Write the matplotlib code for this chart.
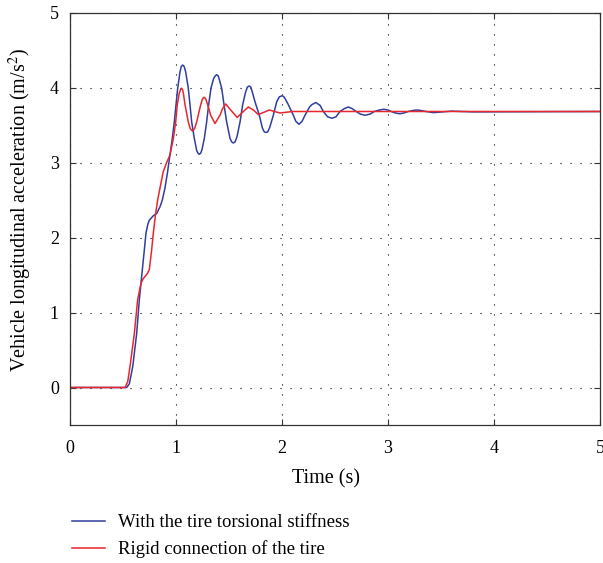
import matplotlib
matplotlib.use("Agg")
import matplotlib.pyplot as plt

plt.rcParams['font.family'] = ['Liberation Serif', 'DejaVu Serif']
plt.rcParams['mathtext.fontset'] = 'stix'

# (time s, acceleration m/s^2)
t_blue = [0.0, 0.535, 0.56, 0.592, 0.629, 0.654, 0.676, 0.701, 0.717, 0.735, 0.748,
          0.786, 0.818, 0.849, 0.871, 0.896, 0.921, 0.943, 0.965, 0.984, 1.0,
          1.016, 1.038, 1.05, 1.063, 1.077, 1.091, 1.116, 1.132, 1.148, 1.173,
          1.195, 1.207, 1.22, 1.233, 1.245, 1.267, 1.289, 1.308, 1.33, 1.355,
          1.37, 1.384, 1.398, 1.41, 1.431, 1.453, 1.478, 1.51, 1.525, 1.541,
          1.557, 1.575, 1.604, 1.629, 1.655, 1.673, 1.69, 1.706, 1.72, 1.745,
          1.786, 1.815, 1.832, 1.849, 1.866, 1.885, 1.918, 1.95, 1.975, 2.0,
          2.015, 2.03, 2.06, 2.107, 2.13, 2.16, 2.19, 2.217, 2.26, 2.28, 2.32,
          2.36, 2.39, 2.43, 2.47, 2.51, 2.547, 2.59, 2.626, 2.66, 2.70, 2.74,
          2.783, 2.83, 2.87, 2.92, 2.96, 3.0, 3.03, 3.07, 3.11, 3.15, 3.19,
          3.24, 3.28, 3.36, 3.43, 3.6, 3.8, 5.0]
a_blue = [0.0, 0.0, 0.05, 0.28, 0.72, 1.17, 1.48, 1.83, 2.06, 2.18, 2.23,
          2.29, 2.32, 2.41, 2.50, 2.66, 2.88, 3.10, 3.32, 3.54, 3.77,
          3.99, 4.21, 4.28, 4.30, 4.28, 4.21, 3.99, 3.77, 3.54, 3.32,
          3.16, 3.125, 3.11, 3.125, 3.17, 3.32, 3.54, 3.77, 3.99, 4.12,
          4.155, 4.17, 4.155, 4.10, 3.99, 3.77, 3.54, 3.32, 3.275, 3.26,
          3.275, 3.34, 3.54, 3.77, 3.93, 4.005, 4.02, 4.005, 3.94, 3.81,
          3.63, 3.46, 3.41, 3.40, 3.41, 3.47, 3.63, 3.81, 3.875, 3.89,
          3.88, 3.85, 3.77, 3.63, 3.55, 3.51, 3.55, 3.63, 3.74, 3.77, 3.80,
          3.76, 3.68, 3.61, 3.59, 3.61, 3.68, 3.72, 3.74, 3.72, 3.68, 3.645,
          3.63, 3.645, 3.68, 3.70, 3.71, 3.70, 3.68, 3.66, 3.65, 3.66, 3.68,
          3.695, 3.70, 3.68, 3.665, 3.685, 3.675, 3.68]

t_red = [0.0, 0.52, 0.545, 0.566, 0.607, 0.638, 0.670, 0.690, 0.708, 0.73, 0.748,
         0.77, 0.786, 0.808, 0.827, 0.849, 0.88, 0.912, 0.943, 0.975, 0.997,
         1.012, 1.03, 1.042, 1.053, 1.062, 1.07, 1.085, 1.116, 1.135, 1.154,
         1.175, 1.195, 1.233, 1.25, 1.264, 1.28, 1.299, 1.327, 1.368, 1.415,
         1.44, 1.469, 1.516, 1.578, 1.635, 1.682, 1.73, 1.776, 1.83, 1.88,
         1.93, 1.98, 2.1, 5.0]
a_red = [0.0, 0.0, 0.08, 0.28, 0.72, 1.17, 1.39, 1.45, 1.48, 1.52, 1.57,
         1.83, 2.06, 2.32, 2.50, 2.66, 2.88, 3.00, 3.10, 3.32, 3.54,
         3.77, 3.92, 3.97, 3.99, 3.97, 3.92, 3.77, 3.54, 3.45, 3.42,
         3.45, 3.54, 3.77, 3.85, 3.87, 3.85, 3.77, 3.63, 3.52, 3.63,
         3.72, 3.78, 3.70, 3.60, 3.68, 3.74, 3.70, 3.64, 3.67, 3.70,
         3.68, 3.66, 3.68, 3.68]

labels = ['With the tire torsional stiffness', 'Rigid connection of the tire']
xticks = [0, 1, 2, 3, 4, 5]
yticks = [0, 1, 2, 3, 4, 5]

fig = plt.figure(figsize=(6.03, 5.63), dpi=100)
ax = fig.add_axes([70/603, 138/563, 530/603, 412.5/563])

ax.plot(t_blue, a_blue, color='#2e3f9e', lw=1.1, label=labels[0])
ax.plot(t_red, a_red, color='#e8262f', lw=1.1, label=labels[1])

ax.set_xlim(0, 5)
ax.set_ylim(-0.5, 5)
ax.set_xticks(xticks)
ax.set_yticks(yticks)
ax.grid(True, color='black', linestyle=(0, (1, 8)), linewidth=0.8)
ax.tick_params(direction='in', length=4, top=True, right=True, labelsize=13,
               width=0.8, color='#333333')
ax.tick_params(axis='x', pad=11)
ax.tick_params(axis='y', pad=8)
for s in ax.spines.values():
    s.set_color('#333333')
    s.set_linewidth(0.9)

ax.set_xlabel('Time (s)', fontsize=14.5)
ax.set_ylabel('Vehicle longitudinal acceleration (m/s$^2$)', fontsize=14.5)
ax.xaxis.set_label_coords(0.483, -0.108)
ax.yaxis.set_label_coords(-0.068, 0.521)

fig.legend(loc='upper left', bbox_to_anchor=(72/603, 1 - 514/563), frameon=False,
           fontsize=13.5, handlelength=1.76, handletextpad=0.7, labelspacing=0.5,
           borderpad=0, borderaxespad=0)

fig.savefig('out.png', dpi=100)
